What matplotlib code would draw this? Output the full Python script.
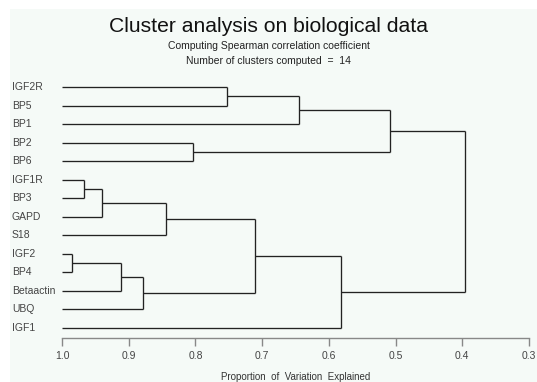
import matplotlib.pyplot as plt
import matplotlib.transforms as mtransforms
from matplotlib.patches import Rectangle

# Листья дерева (сверху вниз)
leaves = ["IGF2R", "BP5", "BP1", "BP2", "BP6", "IGF1R", "BP3", "GAPD",
          "S18", "IGF2", "BP4", "Betaactin", "UBQ", "IGF1"]

# Слияния: номера кластеров 14, 15, ... по порядку
merge_left = [0, 14, 3, 15, 5, 18, 19, 9, 21, 22, 20, 24, 17]
merge_right = [1, 2, 4, 16, 6, 7, 8, 10, 11, 12, 23, 13, 25]
merge_height = [0.752, 0.645, 0.803, 0.509, 0.967, 0.940, 0.844,
                0.985, 0.912, 0.878, 0.710, 0.582, 0.396]

xticks = [1.0, 0.9, 0.8, 0.7, 0.6, 0.5, 0.4, 0.3]

plt.rcParams["font.family"] = ["Liberation Sans", "DejaVu Sans"]

W, H = 537, 382
fig = plt.figure(figsize=(W / 100, H / 100), dpi=100)
fig.patch.set_facecolor("white")

# Светлый фон
fig.patches.append(Rectangle((10 / W, 0), 1 - 10 / W, 1 - 9 / H,
                             transform=fig.transFigure, facecolor="#f5faf7",
                             edgecolor="none", zorder=-10))

ax = fig.add_axes([62 / W, 1 - 337.5 / H, (529 - 62) / W, (337.5 - 80) / H])
ax.set_facecolor("none")
ax.set_zorder(1)

n = len(leaves)
ax.set_xlim(1.0, 0.3)
ax.set_ylim(n - 1 + (337.5 - 328) / 18.54, -(87 - 80) / 18.54)

# Координаты узлов: (y, высота)
pos = {i: (i, 1.0) for i in range(n)}
line_kw = dict(color="#222222", lw=0.95, solid_capstyle="butt")
for k, (a, b, h) in enumerate(zip(merge_left, merge_right, merge_height)):
    ya, xa = pos[a]
    yb, xb = pos[b]
    ax.plot([xa, h], [ya, ya], **line_kw)
    ax.plot([xb, h], [yb, yb], **line_kw)
    ax.plot([h, h], [ya, yb], **line_kw)
    pos[n + k] = ((ya + yb) / 2, h)

# Подписи листьев
trans = mtransforms.blended_transform_factory(fig.transFigure, ax.transData)
for i, name in enumerate(leaves):
    fig.text(12 / W, i, name, transform=trans, ha="left", va="center",
             fontsize=7.5, color="#444444")

for side in ["top", "left", "right"]:
    ax.spines[side].set_visible(False)
ax.spines["bottom"].set_color("#888888")
ax.spines["bottom"].set_linewidth(1.0)
ax.set_yticks([])
ax.set_xticks(xticks)
ax.set_xticklabels([f"{t:.1f}" for t in xticks])
ax.tick_params(axis="x", direction="out", length=6, width=1.0,
               color="#888888", labelcolor="#444444", labelsize=7.5, pad=4)

fig.text(295.5 / W, 1 - 377 / H, "Proportion  of  Variation  Explained",
         ha="center", va="center", fontsize=7, color="#333333")

fig.text(0.5, 1 - 26 / H, "Cluster analysis on biological data",
         ha="center", va="center", fontsize=15.2, color="#111111")
fig.text(0.5, 1 - 46 / H, "Computing Spearman correlation coefficient",
         ha="center", va="center", fontsize=7.5, color="#222222")
fig.text(0.5, 1 - 61 / H, "Number of clusters computed  =  14",
         ha="center", va="center", fontsize=7.5, color="#222222")

fig.savefig("out.png", dpi=100)
